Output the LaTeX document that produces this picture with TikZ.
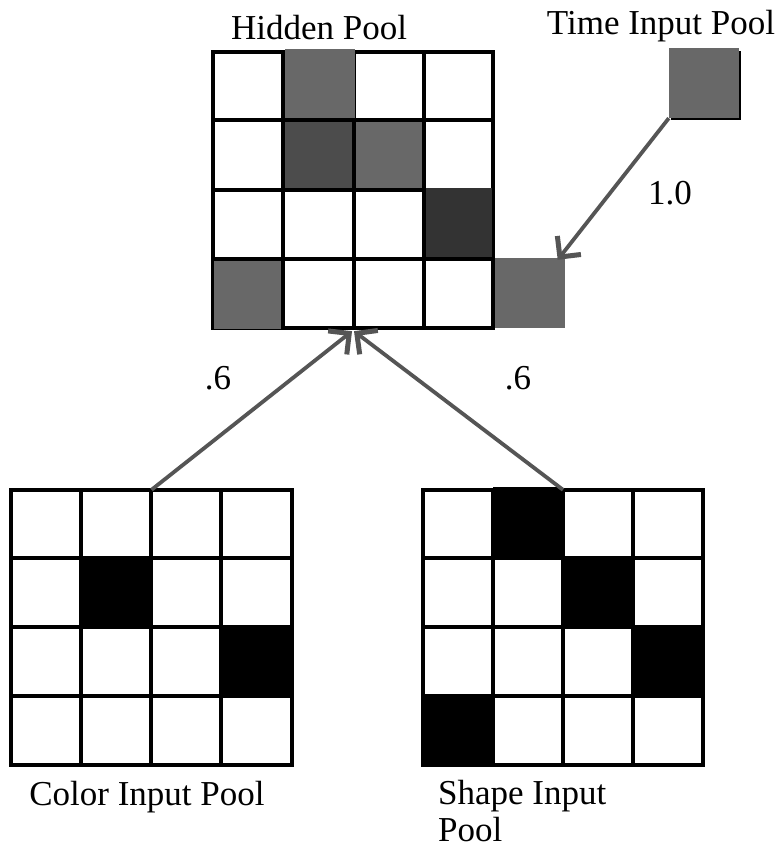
\documentclass[tikz,border=0pt]{standalone}
\usepackage{fontspec}
\setmainfont{Liberation Serif}
\usetikzlibrary{arrows.meta}
\definecolor{gmid}{HTML}{686868}
\definecolor{gdark}{HTML}{4C4C4C}
\definecolor{gdarker}{HTML}{333333}
\definecolor{arr}{HTML}{555555}
\begin{document}
\begin{tikzpicture}[x=1pt,y=-1pt,
  gridline/.style={line width=3.2pt,black},
  lbl/.style={font=\fontsize{35}{40}\selectfont,inner sep=0pt},
  conn/.style={arr,line width=3.8pt,-{Straight Barb[length=15pt,width=30pt,line width=5pt]}},
  gridbox/.style={draw=none,inner sep=0pt,minimum width=#1pt,minimum height=#1pt}
]
\useasboundingbox (0,0) rectangle (783,850);
\fill[white] (0,0) rectangle (783,850);

% ---------- Hidden pool ----------
\node[gridbox=1,minimum width=280pt,minimum height=276pt] (hid) at (353,190) {};
\draw[gridline] (213,52) rectangle (493,328);
\foreach \x in {283,354,424}{\draw[gridline] (\x,52) -- (\x,328);}
\foreach \y in {120,190,259}{\draw[gridline] (213,\y) -- (493,\y);}
\fill[gmid] (285,49) rectangle (355,118.5);
\fill[gdark] (284.6,121.6) rectangle (352.4,188.4);
\fill[gmid] (355.6,121.6) rectangle (422.4,188.4);
\fill[gdarker] (425.6,188.4) rectangle (492,257.4);
\fill[gmid] (214,260.6) rectangle (281.4,329);
% extra time-linked cell
\node[gridbox=70,fill=gmid] (ext) at (529.5,293) {};
\node[lbl,anchor=base] (hidlbl) at (319,40) {Hidden Pool};

% ---------- Time input pool ----------
\fill[black] (671,51) rectangle (741,120);
\node[gridbox=70,fill=gmid] (time) at (704,83) {};
\node[lbl,anchor=base] (timelbl) at (661,35) {Time Input Pool};

% ---------- Color input pool ----------
\node[gridbox=1,minimum width=281pt,minimum height=275pt] (col) at (151.5,627.5) {};
\fill[black] (81,558) rectangle (151,627);
\fill[black] (221,627) rectangle (292,696);
\draw[gridline] (11,490) rectangle (292,765);
\foreach \x in {81,151,221}{\draw[gridline] (\x,490) -- (\x,765);}
\foreach \y in {558,627,696}{\draw[gridline] (11,\y) -- (292,\y);}
\node[lbl,anchor=base] (collbl) at (147,805) {Color Input Pool};

% ---------- Shape input pool ----------
\node[gridbox=1,minimum width=280pt,minimum height=275pt] (shp) at (563,627.5) {};
\fill[black] (493,487) rectangle (563,558);
\fill[black] (563,558) rectangle (633,627);
\fill[black] (633,627) rectangle (704,696);
\fill[black] (423,696) rectangle (493,766);
\draw[gridline] (423,490) rectangle (703,765);
\foreach \x in {493,563,633}{\draw[gridline] (\x,490) -- (\x,765);}
\foreach \y in {558,627,696}{\draw[gridline] (423,\y) -- (703,\y);}
\node[lbl,anchor=base west] (shplbl) at (438,804) {Shape Input};
\node[lbl,anchor=base west] (shplbl2) at (438,841) {Pool};

% ---------- connectors ----------
\draw[conn] (col.north) -- ([xshift=-1pt,yshift=-3pt]hid.south);
\draw[conn] (shp.north) -- ([xshift=1pt,yshift=-3pt]hid.south);
\draw[conn] (time.south west) -- ([xshift=-7pt,yshift=-2pt]ext.north east);
\node[lbl] (w1) at (218,378) {.6};
\node[lbl] (w2) at (518,378) {.6};
\node[lbl] (w3) at (670,193) {1.0};
\end{tikzpicture}
\end{document}
